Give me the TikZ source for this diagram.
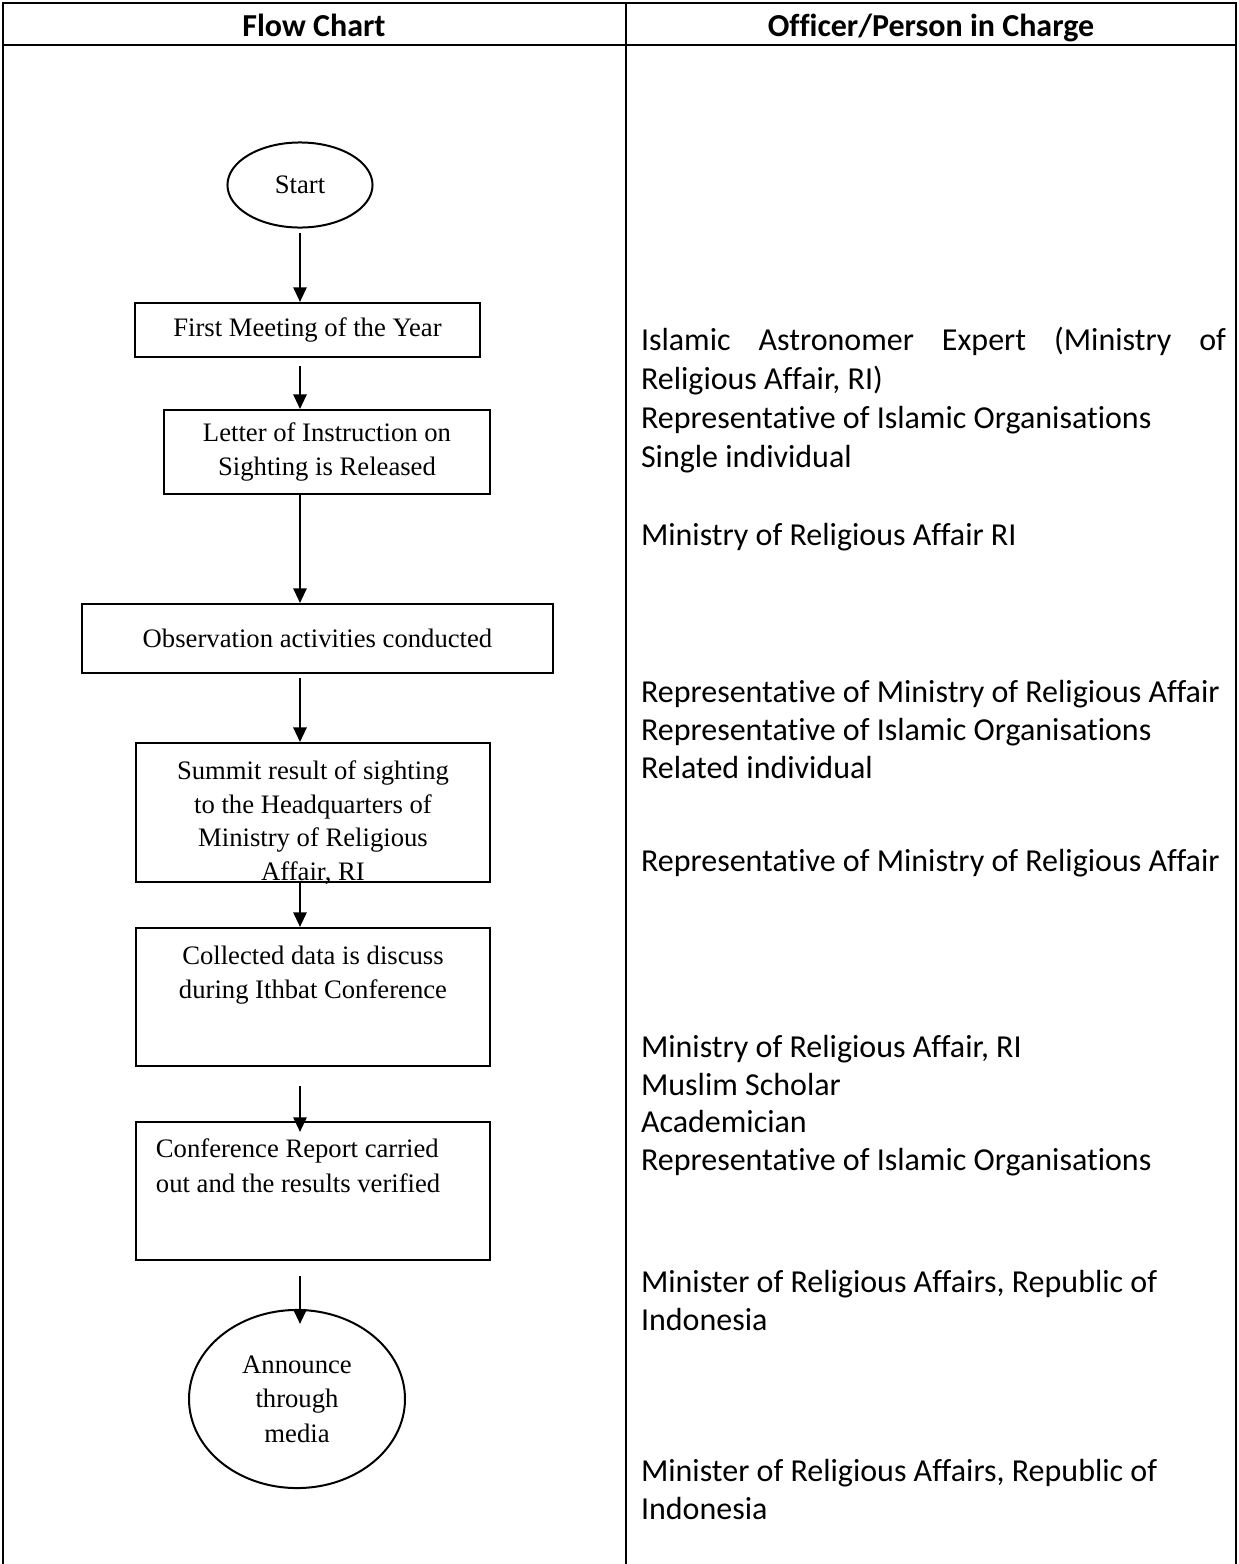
\documentclass[tikz,border=0pt]{standalone}
\usepackage{fontspec}
\setmainfont{Liberation Serif}
\newfontfamily\calibri[Ligatures=NoCommon]{Carlito}
\usetikzlibrary{shapes.geometric, arrows.meta, positioning, calc}

\begin{document}
\begin{tikzpicture}[
    x=0.375pt, y=-0.375pt,
    line width=0.75pt,
    terminal/.style={draw, ellipse, inner sep=0pt, align=center, font=\fontsize{10}{13}\selectfont},
    stepbox/.style={draw, rectangle, inner sep=0pt, align=center, font=\fontsize{10}{13}\selectfont},
    steptext/.style={inner sep=0pt, font=\fontsize{10}{13}\selectfont},
    flow/.style={-{Triangle[length=5.5pt, width=5pt]}},
    head/.style={anchor=mid, font=\calibri\bfseries\fontsize{12}{14.5}\selectfont},
    duty/.style={anchor=mid west, inner sep=0pt, font=\calibri\fontsize{12}{14.5}\selectfont},
    rule/.style={line width=0.8pt}
]
    \useasboundingbox (0,0) rectangle (1238,1564);

    % Table
    \draw[rule] (3,1564) -- (3,3) -- (1236,3) -- (1236,1564);
    \draw[rule] (3,45) -- (1236,45);
    \draw[rule] (626,3) -- (626,1564);
    \node[head] (headflow) at (314,30) {Flow Chart};
    \node[head] (headduty) at (931,30) {Officer/Person in Charge};

    % Flow chart
    \node[terminal, minimum width=54.4pt, minimum height=31.9pt] (start) at (300,185) {Start};
    \node[stepbox, minimum width=129.4pt, minimum height=20.3pt] (meet) at (307.5,330) {First Meeting of the Year};
    \node[stepbox, minimum width=122.3pt, minimum height=31.5pt] (letter) at (327,452) {Letter of Instruction on\\Sighting is Released};
    \node[stepbox, minimum width=176.6pt, minimum height=25.9pt] (observe) at (317.5,638.5) {Observation activities conducted};
    \node[stepbox, minimum width=132.8pt, minimum height=52.1pt] (summit) at (313,812.5) {};
    \node[steptext, align=center, font=\fontsize{10}{12.6}\selectfont, below=6.6pt of summit.north] (summittext) {Summit result of sighting\\to the Headquarters of\\Ministry of Religious\\Affair, RI};
    \node[stepbox, minimum width=132.8pt, minimum height=51.8pt] (collect) at (313,997) {};
    \node[steptext, align=center, below=6.6pt of collect.north] (collecttext) {Collected data is discuss\\during Ithbat Conference};
    \node[stepbox, minimum width=132.8pt, minimum height=51.8pt] (report) at (313,1191) {};
    \node[steptext, align=left, below right=6.3pt and 7.5pt of report.north west] (reporttext) {Conference Report carried\\out and the results verified};
    \node[terminal, minimum width=81pt, minimum height=66.8pt] (announce) at (297,1399) {Announce\\through\\media};

    % Arrows
    \draw[flow] ($(start.south)+(0,4)$) -- (start.south |- meet.north);
    \draw[flow] ($(start.south |- meet.south)+(0,8)$) -- (start.south |- letter.north);
    \draw[flow] (start.south |- letter.south) -- (start.south |- observe.north);
    \draw[flow] ($(start.south |- observe.south)+(0,4)$) -- (start.south |- summit.north);
    \draw[flow] (start.south |- summit.south) -- (start.south |- collect.north);
    \draw[flow] ($(start.south |- collect.south)+(0,19)$) -- ($(start.south |- report.north)+(0,11)$);
    \draw[flow] ($(start.south |- report.south)+(0,15)$) -- ($(start.south |- announce.north)+(0,15)$);

    % Officers in charge
    \foreach \n/\y/\txt in {
        1/344/{\makebox[219.4pt][s]{Islamic Astronomer Expert (Ministry of}},
        2/383/{Religious Affair, RI)},
        3/422/{Representative of Islamic Organisations},
        4/461/{Single individual},
        5/539/{Ministry of Religious Affair RI},
        6/696/{Representative of Ministry of Religious Affair},
        7/734/{Representative of Islamic Organisations},
        8/772/{Related individual},
        9/865/{Representative of Ministry of Religious Affair},
        10/1051/{Ministry of Religious Affair, RI},
        11/1089/{Muslim Scholar},
        12/1126/{Academician},
        13/1164/{Representative of Islamic Organisations},
        14/1286/{Minister of Religious Affairs, Republic of},
        15/1324/{Indonesia},
        16/1475/{Minister of Religious Affairs, Republic of},
        17/1513/{Indonesia}}
        \node[duty] (duty\n) at (640,\y) {\txt};

\end{tikzpicture}
\end{document}
